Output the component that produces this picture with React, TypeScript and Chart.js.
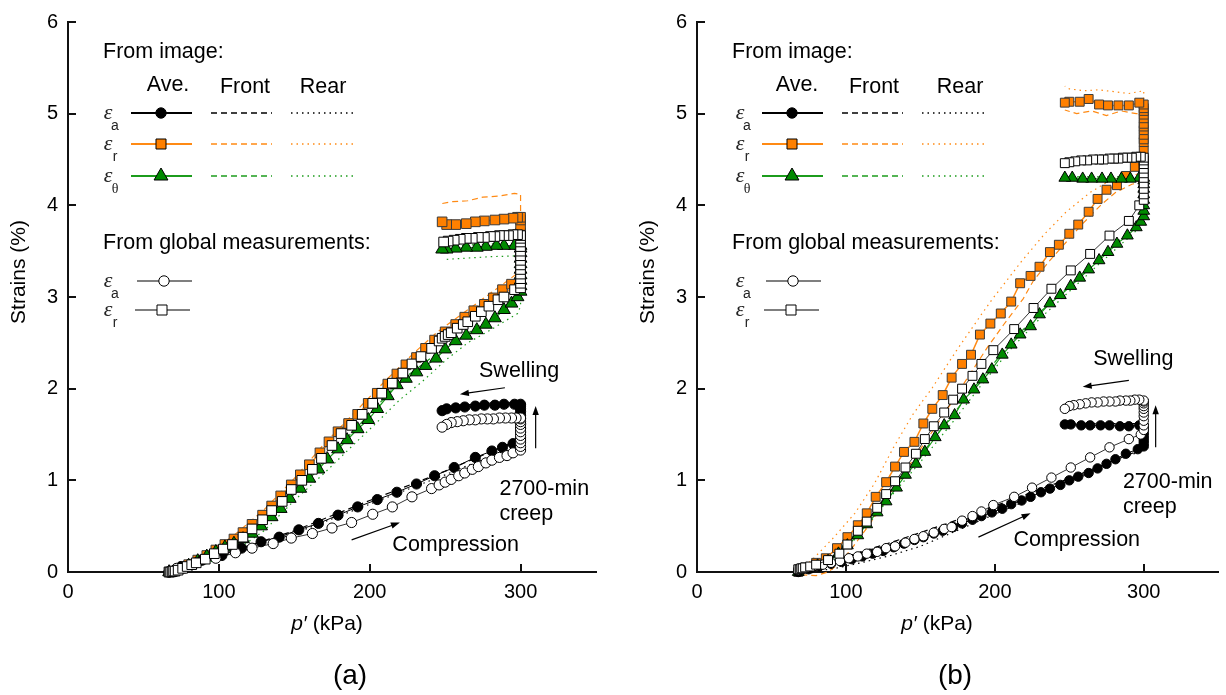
import React, { useEffect, useRef } from 'react';
import { Chart, registerables } from 'chart.js';

Chart.register(...registerables);

type Pt = [number, number];

// ===== Axes =====
const xTickValues = [0, 100, 200, 300];
const yTickValues = [0, 1, 2, 3, 4, 5, 6];
const X_MAX = 350;
const Y_MAX = 6;

// ===== Panel (a) : [p' (kPa), strain (%)] =====
const aEaAve: Pt[] = [
  [67, 0], [75, 0.06], [89, 0.13], [102, 0.18], [115, 0.26], [128, 0.33], [140, 0.38], [153, 0.46],
  [166, 0.53], [179, 0.62], [192, 0.71], [205, 0.79], [218, 0.87], [231, 0.96], [243, 1.05], [256, 1.14],
  [270, 1.25], [281, 1.32], [288, 1.36], [295, 1.4], [300, 1.43],
  [300, 1.47], [300, 1.52], [300, 1.57], [300, 1.62], [300, 1.67], [300, 1.71], [300, 1.75], [300, 1.78], [300, 1.81], [300, 1.83],
  [296, 1.83], [289, 1.83], [283, 1.82], [276, 1.82], [270, 1.81], [263, 1.8], [257, 1.79], [251, 1.78], [248, 1.76],
];
const aEaFront: Pt[] = [
  [67, 0], [100, 0.18], [150, 0.45], [200, 0.78], [250, 1.1], [300, 1.45], [300, 1.85], [275, 1.84], [250, 1.8],
];
const aEaRear: Pt[] = [
  [67, 0], [100, 0.16], [150, 0.42], [200, 0.74], [250, 1.06], [300, 1.4], [300, 1.8], [275, 1.79], [250, 1.76],
];
const aErAve: Pt[] = [
  [67, 0], [74, 0.04], [80, 0.08], [86, 0.13], [92, 0.18], [98, 0.24], [104, 0.3], [110, 0.36], [116, 0.43],
  [122, 0.52], [129, 0.62], [135, 0.72], [141, 0.83], [148, 0.95], [154, 1.06], [160, 1.17], [167, 1.3],
  [173, 1.42], [179, 1.53], [186, 1.62], [192, 1.72], [199, 1.84], [205, 1.95], [212, 2.05], [218, 2.16],
  [224, 2.26], [231, 2.34], [237, 2.44], [243, 2.53], [250, 2.62], [257, 2.7], [263, 2.78], [269, 2.85],
  [276, 2.92], [282, 2.99], [288, 3.08], [294, 3.14], [300, 3.2],
  [300, 3.3], [300, 3.4], [300, 3.5], [300, 3.6], [300, 3.7], [300, 3.78], [300, 3.84], [300, 3.87],
  [298, 3.87], [295, 3.86], [289, 3.85], [283, 3.84], [276, 3.83], [270, 3.82], [264, 3.8], [257, 3.79], [251, 3.79], [248, 3.82],
];
const aErFront: Pt[] = [
  [70, 0.01], [90, 0.17], [110, 0.4], [130, 0.68], [150, 1.02], [170, 1.4], [190, 1.74], [210, 2.08],
  [230, 2.4], [245, 2.62], [260, 2.8], [275, 2.98], [290, 3.16], [298, 3.26],
  [300, 3.5], [300, 3.9], [300, 4.12], [296, 4.13], [285, 4.1], [275, 4.09], [265, 4.05], [255, 4.04], [248, 4.02],
];
const aErRear: Pt[] = [
  [70, 0], [90, 0.15], [110, 0.35], [130, 0.63], [150, 0.97], [170, 1.35], [190, 1.68], [210, 2.0],
  [230, 2.33], [250, 2.6], [270, 2.83], [290, 3.05], [300, 3.15],
  [300, 3.4], [300, 3.65], [280, 3.63], [260, 3.62], [250, 3.6],
];
const aEtAve: Pt[] = [
  [67, 0], [74, 0.03], [80, 0.07], [86, 0.12], [92, 0.17], [98, 0.22], [104, 0.27], [110, 0.31], [116, 0.36],
  [122, 0.42], [128, 0.5], [135, 0.6], [141, 0.69], [147, 0.8], [154, 0.91], [160, 1.02], [166, 1.12],
  [172, 1.23], [179, 1.34], [185, 1.44], [192, 1.56], [199, 1.66], [205, 1.78], [212, 1.92], [218, 2.04],
  [224, 2.11], [231, 2.18], [237, 2.25], [244, 2.33], [250, 2.43], [257, 2.52], [264, 2.58], [271, 2.64],
  [277, 2.7], [283, 2.77], [289, 2.86], [294, 2.93], [298, 3.0],
  [300, 3.06], [300, 3.12], [300, 3.18], [300, 3.24], [300, 3.3], [300, 3.36], [300, 3.42], [300, 3.48], [300, 3.53], [300, 3.56],
  [296, 3.56], [289, 3.56], [284, 3.56], [277, 3.55], [271, 3.54], [264, 3.54], [257, 3.53], [251, 3.52], [248, 3.52],
];
const aEtFront: Pt[] = [
  [70, 0.01], [100, 0.25], [130, 0.55], [160, 1.05], [190, 1.55], [220, 2.08], [250, 2.45], [280, 2.76],
  [300, 3.05], [300, 3.58], [280, 3.58], [250, 3.55],
];
const aEtRear: Pt[] = [
  [70, 0], [90, 0.08], [110, 0.22], [130, 0.45], [150, 0.78], [170, 1.08], [190, 1.4], [204, 1.62],
  [220, 1.88], [235, 2.08], [251, 2.32], [265, 2.5], [280, 2.64], [298, 2.82],
  [300, 2.9], [300, 3.2], [300, 3.45], [280, 3.44], [260, 3.42], [250, 3.41],
];
const aEaGlobal: Pt[] = [
  [67, 0], [72, 0.04], [85, 0.1], [98, 0.15], [111, 0.21], [122, 0.26], [136, 0.31], [148, 0.37],
  [162, 0.42], [175, 0.48], [188, 0.54], [202, 0.63], [215, 0.71], [228, 0.82], [241, 0.91], [246, 0.95],
  [250, 0.98], [254, 1.01], [259, 1.05], [263, 1.08], [268, 1.12], [272, 1.15], [277, 1.19], [281, 1.22],
  [286, 1.25], [291, 1.27], [295, 1.3], [300, 1.33],
  [300, 1.37], [300, 1.41], [300, 1.45], [300, 1.49], [300, 1.53], [300, 1.57], [300, 1.61], [300, 1.64], [300, 1.67], [300, 1.68],
  [297, 1.68], [294, 1.68], [290, 1.68], [286, 1.68], [282, 1.67], [278, 1.67], [274, 1.67], [270, 1.66],
  [266, 1.66], [262, 1.65], [258, 1.64], [254, 1.63], [251, 1.61], [248, 1.58],
];
const aErGlobal: Pt[] = [
  [67, 0], [68, 0], [69, 0.005], [70, 0.01], [71, 0.01], [73, 0.02], [76, 0.04], [79, 0.06], [82, 0.08],
  [85, 0.1], [91, 0.14], [97, 0.2], [103, 0.25], [109, 0.3], [116, 0.38],
  [122, 0.47], [129, 0.57], [135, 0.67], [142, 0.77], [148, 0.9], [155, 1.0], [162, 1.12], [168, 1.24],
  [175, 1.38], [181, 1.51], [188, 1.6], [195, 1.72], [202, 1.84], [208, 1.95], [215, 2.06], [222, 2.17],
  [228, 2.27], [234, 2.35], [241, 2.44], [246, 2.52], [248, 2.55], [250, 2.57], [252, 2.59], [254, 2.61],
  [258, 2.66], [262, 2.7], [265, 2.73], [270, 2.79], [274, 2.84], [279, 2.9], [285, 2.97], [289, 3.0],
  [296, 3.08], [300, 3.1],
  [300, 3.15], [300, 3.2], [300, 3.25], [300, 3.3], [300, 3.35], [300, 3.4], [300, 3.45], [300, 3.5], [300, 3.55], [300, 3.6], [300, 3.64], [300, 3.67],
  [298, 3.68], [295, 3.68], [292, 3.67], [289, 3.67], [286, 3.67], [283, 3.66], [280, 3.66], [276, 3.65],
  [272, 3.65], [268, 3.64], [264, 3.64], [260, 3.63], [256, 3.62], [252, 3.61], [249, 3.6],
];

// ===== Panel (b) =====
const bEaAve: Pt[] = [
  [68, 0], [75, 0.03], [82, 0.06], [90, 0.09], [97, 0.11], [104, 0.14], [111, 0.17], [118, 0.2], [125, 0.23],
  [132, 0.27], [139, 0.31], [146, 0.35], [152, 0.38], [159, 0.42], [165, 0.45], [172, 0.49], [178, 0.53],
  [185, 0.57], [191, 0.61], [198, 0.65], [205, 0.69], [211, 0.74], [218, 0.78], [224, 0.82], [231, 0.87],
  [237, 0.91], [244, 0.95], [250, 1.0], [256, 1.04], [263, 1.08], [269, 1.13], [275, 1.18], [281, 1.23],
  [288, 1.29], [296, 1.34],
  [300, 1.37], [300, 1.4], [300, 1.43], [300, 1.46], [300, 1.49], [300, 1.52], [300, 1.55], [300, 1.58], [300, 1.6],
  [297, 1.6], [290, 1.59], [284, 1.59], [277, 1.6], [271, 1.6], [264, 1.6], [258, 1.6], [251, 1.61], [247, 1.61],
];
const bEaFront: Pt[] = [
  [68, 0], [90, 0.1], [110, 0.22], [130, 0.32], [150, 0.43], [170, 0.54], [190, 0.66], [210, 0.78],
  [230, 0.9], [250, 1.02], [270, 1.15], [290, 1.28], [300, 1.35], [300, 1.62], [275, 1.62], [247, 1.62],
];
const bEaRear: Pt[] = [
  [68, 0], [90, 0.03], [110, 0.1], [130, 0.18], [150, 0.28], [170, 0.42], [190, 0.56], [210, 0.7],
  [230, 0.84], [250, 0.98], [270, 1.12], [290, 1.27], [300, 1.33], [300, 1.58], [275, 1.58], [247, 1.58],
];
const bErAve: Pt[] = [
  [68, 0], [72.6, 0.05], [80, 0.1], [86.5, 0.15], [94, 0.26], [101, 0.38], [108, 0.51], [114, 0.64],
  [120, 0.82], [127, 0.98], [133, 1.15], [139, 1.31], [146, 1.42], [152, 1.62], [158, 1.78], [165, 1.93],
  [171, 2.12], [178, 2.27], [184, 2.37], [190, 2.59], [197, 2.71], [204, 2.82], [211, 2.95], [217, 3.15],
  [224, 3.23], [230, 3.33], [237, 3.49], [243, 3.57], [250, 3.69], [256, 3.79], [263, 3.93], [269, 4.07],
  [275, 4.17], [282, 4.22], [288, 4.32], [294, 4.42], [300, 4.5],
  [300, 4.6], [300, 4.69], [300, 4.72], [300, 4.77], [300, 4.82], [300, 4.86], [300, 4.89], [300, 4.95],
  [300, 4.99], [300, 5.03], [300, 5.06], [300, 5.1],
  [297, 5.12], [290, 5.09], [283, 5.09], [276, 5.09], [270, 5.1], [263, 5.16], [257, 5.13], [250, 5.13], [247, 5.12],
];
const bErFront: Pt[] = [
  [70, -0.03], [80, -0.04], [88, 0.0], [96, 0.1], [105, 0.28], [115, 0.5], [125, 0.74], [135, 0.98],
  [145, 1.22], [155, 1.46], [165, 1.7], [175, 1.95], [185, 2.2], [195, 2.45], [206, 2.7], [219, 2.98],
  [226, 3.18], [237, 3.4], [248, 3.6], [259, 3.8], [271, 4.0], [281, 4.14], [292, 4.23], [300, 4.26],
  [300, 4.6], [300, 5.0], [295, 5.0], [285, 5.03], [275, 4.98], [265, 5.03], [255, 5.0], [247, 5.04],
];
const bErRear: Pt[] = [
  [70, 0.02], [79, 0.16], [92, 0.38], [106, 0.64], [119, 0.96], [132, 1.36], [145, 1.72], [158, 2.01],
  [174, 2.41], [191, 2.81], [198, 2.97], [218, 3.39], [233, 3.68], [248, 3.93], [264, 4.14], [279, 4.29],
  [292, 4.33], [300, 4.35], [300, 4.8], [300, 5.25], [290, 5.22], [280, 5.24], [270, 5.26], [260, 5.25],
  [250, 5.27], [247, 5.3],
];
const bEtAve: Pt[] = [
  [68, 0], [74, 0.03], [81, 0.07], [88, 0.12], [95, 0.2], [101, 0.29], [108, 0.4], [114, 0.52], [121, 0.65],
  [127, 0.77], [134, 0.92], [140, 1.06], [147, 1.18], [153, 1.31], [160, 1.47], [166, 1.6], [173, 1.71],
  [179, 1.88], [186, 1.99], [192, 2.1], [198, 2.21], [205, 2.37], [211, 2.48], [217, 2.59], [224, 2.68],
  [230, 2.81], [237, 2.93], [244, 3.02], [251, 3.12], [257, 3.21], [263, 3.3], [270, 3.4], [276, 3.49],
  [282, 3.58], [289, 3.67], [295, 3.76], [298, 3.82],
  [300, 3.88], [300, 3.94], [300, 4.0], [300, 4.06], [300, 4.12], [300, 4.18], [300, 4.23], [300, 4.27], [300, 4.3],
  [297, 4.3], [291, 4.29], [285, 4.29], [278, 4.29], [272, 4.29], [265, 4.29], [259, 4.29], [252, 4.3], [247, 4.3],
];
const bEtFront: Pt[] = [
  [68, 0.01], [90, 0.16], [110, 0.48], [130, 0.88], [150, 1.27], [170, 1.68], [190, 2.09], [210, 2.49],
  [230, 2.83], [250, 3.12], [270, 3.42], [290, 3.71], [300, 3.86], [300, 4.1], [300, 4.31], [280, 4.31],
  [260, 4.31], [247, 4.31],
];
const bEtRear: Pt[] = [
  [68, 0], [90, 0.1], [110, 0.42], [130, 0.82], [150, 1.2], [170, 1.6], [190, 2.02], [210, 2.42],
  [230, 2.76], [250, 3.06], [270, 3.36], [290, 3.65], [300, 3.8], [300, 4.05], [300, 4.27], [280, 4.27],
  [260, 4.28], [247, 4.28],
];
const bEaGlobal: Pt[] = [
  [68, 0.02], [72.6, 0.04], [78, 0.06], [84.5, 0.08], [90, 0.1], [96, 0.12], [102, 0.15], [108, 0.17],
  [114, 0.2], [121, 0.22], [127, 0.26], [133, 0.28], [140, 0.32], [146, 0.36], [152, 0.39], [159, 0.43],
  [166, 0.47], [171, 0.49], [178, 0.56], [185, 0.61], [191, 0.66], [199, 0.73], [213, 0.82], [225, 0.92],
  [238, 1.03], [251, 1.14], [264, 1.25], [277, 1.36], [290, 1.45], [298, 1.5],
  [300, 1.55], [300, 1.6], [300, 1.65], [300, 1.7], [300, 1.74], [300, 1.78], [300, 1.81], [300, 1.84], [300, 1.86], [300, 1.87],
  [297, 1.88], [294, 1.88], [291, 1.87], [288, 1.87], [284, 1.87], [281, 1.86], [277, 1.86], [273, 1.86],
  [269, 1.85], [265, 1.85], [261, 1.84], [257, 1.83], [253, 1.82], [250, 1.81], [247, 1.78],
];
const bErGlobal: Pt[] = [
  [68, 0.03], [69, 0.03], [70, 0.04], [71, 0.04], [72.6, 0.05], [76, 0.06], [80, 0.08], [88, 0.13], [95.6, 0.2],
  [101, 0.3], [108, 0.45], [114, 0.55],
  [121, 0.7], [127, 0.85], [133, 0.99], [140, 1.14], [147, 1.29], [153, 1.45], [159, 1.59], [166, 1.74],
  [172, 1.88], [178, 2.0], [185, 2.14], [191, 2.27], [199, 2.42], [213, 2.65], [226, 2.88], [238, 3.09],
  [251, 3.29], [264, 3.47], [277, 3.67], [290, 3.83], [297, 4.0],
  [300, 4.06], [300, 4.12], [300, 4.18], [300, 4.24], [300, 4.3], [300, 4.35], [300, 4.4], [300, 4.45], [300, 4.49], [300, 4.52],
  [298, 4.53], [295, 4.53], [292, 4.52], [289, 4.52], [286, 4.52], [283, 4.51], [280, 4.51], [277, 4.51],
  [273, 4.5], [270, 4.5], [266, 4.5], [262, 4.49], [258, 4.49], [254, 4.48], [250, 4.47], [247, 4.46],
];

// ===== Styles =====
const FONT = '"Liberation Sans", Arial, sans-serif';
const SERIF = '"Liberation Serif", "Times New Roman", serif';
const ORANGE = '#FF8000';
const ORANGE_LINE = '#FF8A14';
const GREEN = '#008A00';
const GREEN_LINE = '#1C9C1C';
const AXIS = '#111111';
const DASH = [6, 4];
const DOT = [1.5, 4];

type SeriesSet = {
  eaAve: Pt[]; eaFront: Pt[]; eaRear: Pt[];
  erAve: Pt[]; erFront: Pt[]; erRear: Pt[];
  etAve: Pt[]; etFront: Pt[]; etRear: Pt[];
  eaGlobal: Pt[]; erGlobal: Pt[];
};

type Annot = {
  swellText: Pt; swellFrom: Pt; swellTo: Pt;
  creepFrom: Pt; creepTo: Pt; creepText1: Pt; creepText2: Pt;
  compFrom: Pt; compTo: Pt; compText: Pt;
};

type Panel = {
  label: string;
  series: SeriesSet;
  canvasLeft: number;
  yAxisWidth: number;
  padRight: number;
  markerScale: number;
  xTitleDx: number;
  labelDx: number;
  epsDx: number;
  rearDx: number;
  lineShift: number;
  annot: Annot;
};

const panels: Panel[] = [
  {
    label: '(a)',
    series: {
      eaAve: aEaAve, eaFront: aEaFront, eaRear: aEaRear,
      erAve: aErAve, erFront: aErFront, erRear: aErRear,
      etAve: aEtAve, etFront: aEtFront, etRear: aEtRear,
      eaGlobal: aEaGlobal, erGlobal: aErGlobal,
    },
    canvasLeft: 0, yAxisWidth: 68, padRight: 17, markerScale: 1.08,
    xTitleDx: 259, labelDx: 282, epsDx: 40, rearDx: 255, lineShift: 0,
    annot: {
      swellText: [299, 2.19], swellFrom: [289.6, 2.01], swellTo: [259.8, 1.94],
      creepFrom: [310, 1.35], creepTo: [310, 1.81], creepText1: [286, 0.91], creepText2: [286, 0.63],
      compFrom: [188, 0.35], compTo: [220, 0.54], compText: [257, 0.29],
    },
  },
  {
    label: '(b)',
    series: {
      eaAve: bEaAve, eaFront: bEaFront, eaRear: bEaRear,
      erAve: bErAve, erFront: bErFront, erRear: bErRear,
      etAve: bEtAve, etFront: bEtFront, etRear: bEtRear,
      eaGlobal: bEaGlobal, erGlobal: bErGlobal,
    },
    canvasLeft: 613, yAxisWidth: 84, padRight: 0, markerScale: 1.0,
    xTitleDx: 240, labelDx: 258, epsDx: 43, rearDx: 263, lineShift: 2,
    annot: {
      swellText: [293, 2.32], swellFrom: [290, 2.09], swellTo: [259, 2.02],
      creepFrom: [308, 1.36], creepTo: [308, 1.82], creepText1: [286, 0.98], creepText2: [286, 0.71],
      compFrom: [189, 0.38], compTo: [224, 0.64], compText: [255, 0.35],
    },
  },
];

function ds(data: Pt[], extra: any) {
  return {
    data: data.map(([x, y]) => ({ x, y })),
    showLine: true,
    fill: false,
    tension: 0,
    clip: false,
    pointHoverRadius: 0,
    ...extra,
  };
}

function buildDatasets(s: SeriesSet, k: number) {
  const thin = (color: string, dash: number[]) => ({
    borderColor: color, borderWidth: 1.2, borderDash: dash, pointRadius: 0,
  });
  const list = [
    ds(s.eaRear, thin('#000', DOT)),
    ds(s.eaFront, thin('#000', DASH)),
    ds(s.etRear, thin(GREEN_LINE, DOT)),
    ds(s.etFront, thin(GREEN_LINE, DASH)),
    ds(s.erRear, thin(ORANGE_LINE, DOT)),
    ds(s.erFront, thin(ORANGE_LINE, DASH)),
    ds(s.erAve, {
      borderColor: ORANGE_LINE, borderWidth: 1.5, pointStyle: 'rect', pointRadius: 6.3 * k,
      pointBackgroundColor: ORANGE, pointBorderColor: '#3a3a3a', pointBorderWidth: 1,
    }),
    ds(s.etAve, {
      borderColor: GREEN_LINE, borderWidth: 1.2, pointStyle: 'triangle', pointRadius: 6.8 * k,
      pointBackgroundColor: GREEN, pointBorderColor: '#000', pointBorderWidth: 1,
    }),
    ds(s.eaAve, {
      borderColor: '#000', borderWidth: 1, pointStyle: 'circle', pointRadius: 4.7 * k,
      pointBackgroundColor: '#000', pointBorderColor: '#000', pointBorderWidth: 1,
    }),
    ds(s.eaGlobal, {
      borderColor: '#000', borderWidth: 0.8, pointStyle: 'circle', pointRadius: 4.7 * k,
      pointBackgroundColor: '#fff', pointBorderColor: '#000', pointBorderWidth: 1,
    }),
    ds(s.erGlobal, {
      borderColor: '#000', borderWidth: 0.8, pointStyle: 'rect', pointRadius: 6.3 * k,
      pointBackgroundColor: '#fff', pointBorderColor: '#000', pointBorderWidth: 1,
    }),
  ];
  return list.map((d, i) => ({ ...d, order: list.length - i }));
}

function drawMarker(ctx: CanvasRenderingContext2D, kind: string, x: number, y: number, r: number, fill: string, stroke: string) {
  ctx.save();
  ctx.fillStyle = fill;
  ctx.strokeStyle = stroke;
  ctx.lineWidth = 1;
  ctx.setLineDash([]);
  ctx.beginPath();
  if (kind === 'circle') ctx.arc(x, y, r, 0, Math.PI * 2);
  else if (kind === 'rect') ctx.rect(x - r, y - r, 2 * r, 2 * r);
  else {
    ctx.moveTo(x, y - r);
    ctx.lineTo(x + r * 0.866, y + r * 0.5);
    ctx.lineTo(x - r * 0.866, y + r * 0.5);
    ctx.closePath();
  }
  ctx.fill();
  ctx.stroke();
  ctx.restore();
}

function hline(ctx: CanvasRenderingContext2D, x1: number, x2: number, y: number, color: string, width: number, dash: number[]) {
  ctx.save();
  ctx.strokeStyle = color;
  ctx.lineWidth = width;
  ctx.setLineDash(dash);
  ctx.beginPath();
  ctx.moveTo(x1, y);
  ctx.lineTo(x2, y);
  ctx.stroke();
  ctx.restore();
}

function arrow(ctx: CanvasRenderingContext2D, x1: number, y1: number, x2: number, y2: number) {
  const ang = Math.atan2(y2 - y1, x2 - x1);
  const hl = 9, hw = 3.2;
  ctx.save();
  ctx.strokeStyle = '#000';
  ctx.fillStyle = '#000';
  ctx.lineWidth = 1.2;
  ctx.beginPath();
  ctx.moveTo(x1, y1);
  ctx.lineTo(x2 - Math.cos(ang) * hl * 0.8, y2 - Math.sin(ang) * hl * 0.8);
  ctx.stroke();
  ctx.beginPath();
  ctx.moveTo(x2, y2);
  ctx.lineTo(x2 - Math.cos(ang) * hl - Math.sin(ang) * hw, y2 - Math.sin(ang) * hl + Math.cos(ang) * hw);
  ctx.lineTo(x2 - Math.cos(ang) * hl + Math.sin(ang) * hw, y2 - Math.sin(ang) * hl - Math.cos(ang) * hw);
  ctx.closePath();
  ctx.fill();
  ctx.restore();
}

function makeOverlay(panel: Panel) {
  return {
    id: 'overlay',
    afterDraw(chart: any) {
      const { ctx, chartArea, scales } = chart;
      const xs = scales.x;
      const ys = scales.y;
      const L = chartArea.left;
      const B = chartArea.bottom;
      const px = (p: Pt) => [xs.getPixelForValue(p[0]), ys.getPixelForValue(p[1])];
      ctx.save();

      // inward tick marks
      ctx.strokeStyle = AXIS;
      ctx.lineWidth = 2;
      xTickValues.forEach((v) => {
        if (v === 0) return;
        const x = Math.round(xs.getPixelForValue(v));
        ctx.beginPath(); ctx.moveTo(x, B); ctx.lineTo(x, B - 8); ctx.stroke();
      });
      yTickValues.forEach((v) => {
        if (v === 0) return;
        const y = Math.round(ys.getPixelForValue(v));
        ctx.beginPath(); ctx.moveTo(L, y); ctx.lineTo(L + 8, y); ctx.stroke();
      });

      ctx.fillStyle = '#000';
      // y title
      ctx.save();
      ctx.translate(L - 49, 272);
      ctx.rotate(-Math.PI / 2);
      ctx.font = `21px ${FONT}`;
      ctx.textAlign = 'center';
      ctx.textBaseline = 'middle';
      ctx.fillText('Strains (%)', 0, 0);
      ctx.restore();

      // x title: p′ (kPa)
      ctx.textBaseline = 'middle';
      ctx.textAlign = 'left';
      const italic = `italic 21px ${FONT}`;
      const normal = `21px ${FONT}`;
      ctx.font = italic;
      const w1 = ctx.measureText('p′').width;
      ctx.font = normal;
      const w2 = ctx.measureText(' (kPa)').width;
      const tx = L + panel.xTitleDx - (w1 + w2) / 2;
      ctx.font = italic;
      ctx.fillText('p′', tx, 624);
      ctx.font = normal;
      ctx.fillText(' (kPa)', tx + w1, 624);

      // panel label
      ctx.font = `28px ${FONT}`;
      ctx.textAlign = 'center';
      ctx.fillText(panel.label, L + panel.labelDx, 676);

      // legend
      const sh = panel.lineShift;
      ctx.font = `21.5px ${FONT}`;
      ctx.textAlign = 'left';
      ctx.fillText('From image:', L + 35, 52);
      ctx.textAlign = 'center';
      ctx.fillText('Ave.', L + 100, 85);
      ctx.fillText('Front', L + 177, 87);
      ctx.fillText('Rear', L + panel.rearDx, 87);

      const eps = (y: number, sub: string) => {
        ctx.save();
        ctx.fillStyle = '#222';
        ctx.font = `italic 22px ${SERIF}`;
        ctx.textAlign = 'center';
        ctx.textBaseline = 'middle';
        ctx.fillText('ε', L + panel.epsDx, y);
        ctx.font = sub === 'θ' ? `14px ${SERIF}` : `14px ${FONT}`;
        ctx.fillText(sub, L + panel.epsDx + 7, y + 13);
        ctx.restore();
      };

      const rows = [
        { y: 113, sub: 'a', color: '#000', kind: 'circle', fill: '#000', r: 5.2 },
        { y: 144, sub: 'r', color: ORANGE_LINE, kind: 'rect', fill: ORANGE, r: 5 },
        { y: 176, sub: 'θ', color: GREEN_LINE, kind: 'tri', fill: GREEN, r: 8 },
      ];
      rows.forEach((row) => {
        eps(row.y, row.sub);
        hline(ctx, L + 63 + sh, L + 124 + sh, row.y, row.color, 2, []);
        drawMarker(ctx, row.kind, L + 93 + sh, row.y, row.r, row.fill, '#000');
        hline(ctx, L + 143 + sh, L + 204 + sh, row.y, row.color, 1.4, DASH);
        hline(ctx, L + 223 + sh, L + 285 + sh, row.y, row.color, 1.4, DOT);
      });

      ctx.font = `21.5px ${FONT}`;
      ctx.textAlign = 'left';
      ctx.textBaseline = 'middle';
      ctx.fillStyle = '#000';
      ctx.fillText('From global measurements:', L + 35, 243);
      eps(281, 'a');
      hline(ctx, L + 69, L + 124, 281, '#000', 1.2, []);
      drawMarker(ctx, 'circle', L + 96, 281, 5.2, '#fff', '#000');
      eps(310, 'r');
      hline(ctx, L + 67, L + 122, 310, '#000', 1.2, []);
      drawMarker(ctx, 'rect', L + 94, 310, 5, '#fff', '#000');

      // annotations
      const a = panel.annot;
      ctx.fillStyle = '#000';
      ctx.font = `21.5px ${FONT}`;
      ctx.textBaseline = 'middle';
      ctx.textAlign = 'center';
      let p = px(a.swellText);
      ctx.fillText('Swelling', p[0], p[1]);
      p = px(a.compText);
      ctx.fillText('Compression', p[0], p[1]);
      ctx.textAlign = 'left';
      p = px(a.creepText1);
      ctx.fillText('2700-min', p[0], p[1]);
      p = px(a.creepText2);
      ctx.fillText('creep', p[0], p[1]);
      let f = px(a.swellFrom), t = px(a.swellTo);
      arrow(ctx, f[0], f[1], t[0], t[1]);
      f = px(a.creepFrom); t = px(a.creepTo);
      arrow(ctx, f[0], f[1], t[0], t[1]);
      f = px(a.compFrom); t = px(a.compTo);
      arrow(ctx, f[0], f[1], t[0], t[1]);

      ctx.restore();
    },
  };
}

function PanelChart({ panel }: { panel: Panel }) {
  const ref = useRef<HTMLCanvasElement | null>(null);
  useEffect(() => {
    if (!ref.current) return;
    const chart = new Chart(ref.current, {
      type: 'scatter',
      data: { datasets: buildDatasets(panel.series, panel.markerScale) as any },
      options: {
        animation: false,
        responsive: false,
        devicePixelRatio: 1,
        events: [],
        layout: { padding: { left: 0, right: panel.padRight, top: 19, bottom: 0 } },
        plugins: { legend: { display: false }, tooltip: { enabled: false } },
        scales: {
          x: {
            type: 'linear',
            min: 0,
            max: X_MAX,
            afterBuildTicks: (s: any) => { s.ticks = xTickValues.map((v) => ({ value: v })); },
            afterFit: (s: any) => { s.height = 123; },
            grid: { display: false, drawTicks: false },
            border: { display: true, color: AXIS, width: 2 },
            ticks: { padding: 8, color: '#000', font: { family: FONT, size: 20 }, callback: (v: any) => String(v) },
          },
          y: {
            type: 'linear',
            min: 0,
            max: Y_MAX,
            afterBuildTicks: (s: any) => { s.ticks = yTickValues.map((v) => ({ value: v })); },
            afterFit: (s: any) => { s.width = panel.yAxisWidth; },
            grid: { display: false, drawTicks: false },
            border: { display: true, color: AXIS, width: 2 },
            ticks: { padding: 10, color: '#000', font: { family: FONT, size: 20 }, callback: (v: any) => String(v) },
          },
        },
      } as any,
      plugins: [makeOverlay(panel)],
    });
    return () => chart.destroy();
  }, [panel]);
  return (
    <canvas
      ref={ref}
      width={613}
      height={695}
      style={{ position: 'absolute', left: panel.canvasLeft, top: 0, width: 613, height: 695, display: 'block' }}
    />
  );
}

export default function App() {
  return (
    <div style={{ position: 'fixed', left: 0, top: 0, width: 1226, height: 695, background: '#fff', overflow: 'hidden' }}>
      {panels.map((p) => (
        <PanelChart key={p.label} panel={p} />
      ))}
    </div>
  );
}
